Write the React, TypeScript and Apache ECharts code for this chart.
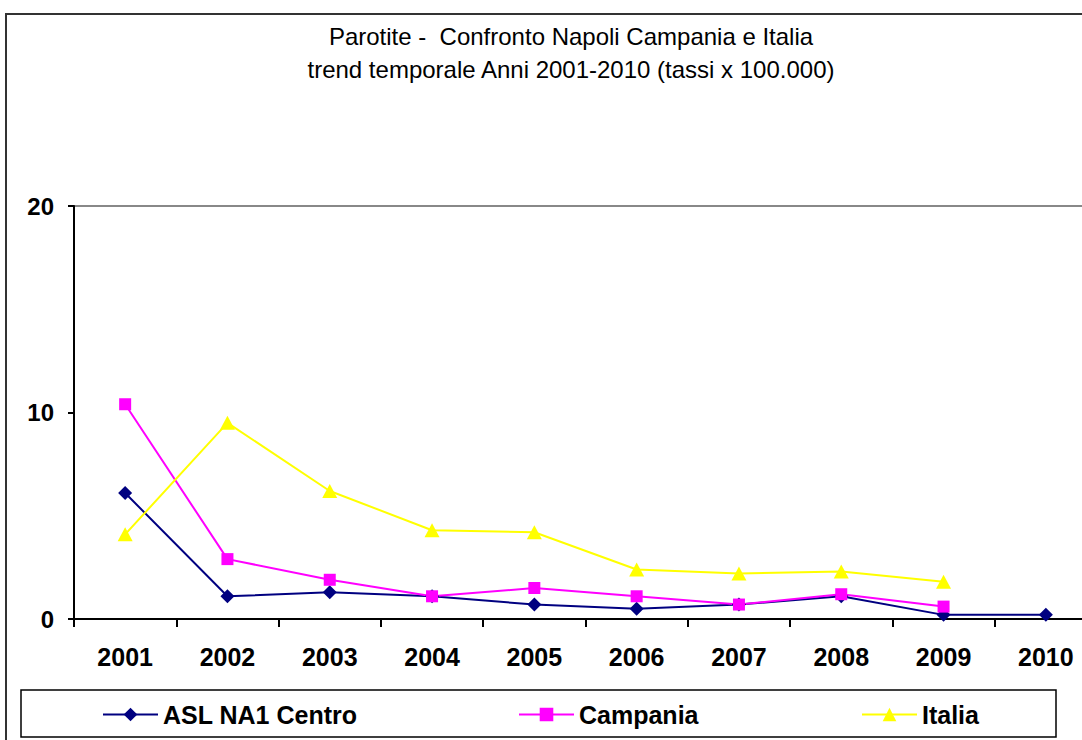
import React, { useEffect, useRef } from "react";
import * as echarts from "echarts";

const years = ["2001", "2002", "2003", "2004", "2005", "2006", "2007", "2008", "2009", "2010"];
const aslNa1 = [6.1, 1.1, 1.3, 1.1, 0.7, 0.5, 0.7, 1.1, 0.2, 0.2];
const campania = [10.4, 2.9, 1.9, 1.1, 1.5, 1.1, 0.7, 1.2, 0.6, null];
const italia = [4.1, 9.5, 6.2, 4.3, 4.2, 2.4, 2.2, 2.3, 1.8, null];
const seriesNames = ["ASL NA1 Centro", "Campania", "Italia"];
const titleText = "Parotite -  Confronto Napoli Campania e Italia\ntrend temporale Anni 2001-2010 (tassi x 100.000)";

const FONT = "'Liberation Sans', Arial, sans-serif";

export default function App() {
  const ref = useRef<HTMLDivElement>(null);
  useEffect(() => {
    if (!ref.current) return;
    const chart = echarts.init(ref.current, undefined, { renderer: "svg" });
    const legendBase = {
      top: 697,
      itemWidth: 55,
      itemHeight: 17,
      itemGap: 0,
      textStyle: { fontFamily: FONT, fontSize: 25, fontWeight: "bold", color: "#000", padding: [0, 0, 0, 0] },
    };
    chart.setOption({
      animation: false,
      title: {
        text: titleText,
        left: "center",
        top: 15,
        textStyle: { fontFamily: FONT, fontSize: 24, fontWeight: "normal", color: "#000", lineHeight: 33 },
      },
      graphic: [
        { type: "rect", shape: { x: 6, y: 14, width: 1300, height: 900 }, style: { fill: "none", stroke: "#333", lineWidth: 2 }, silent: true },
        { type: "rect", shape: { x: 21, y: 690, width: 1035, height: 47 }, style: { fill: "none", stroke: "#000", lineWidth: 1.5 }, silent: true },
      ],
      legend: [
        { ...legendBase, left: 97, data: [seriesNames[0]] },
        { ...legendBase, left: 513, data: [seriesNames[1]] },
        { ...legendBase, left: 856, data: [seriesNames[2]] },
      ],
      grid: {
        left: 74,
        top: 206,
        width: 1023,
        height: 413,
        show: true,
        borderColor: "#888",
        borderWidth: 2,
        backgroundColor: "transparent",
      },
      xAxis: {
        type: "category",
        data: years,
        boundaryGap: true,
        axisLine: { lineStyle: { color: "#000", width: 2 } },
        axisTick: { show: true, length: 8, lineStyle: { color: "#000", width: 2 } },
        axisLabel: { fontFamily: FONT, fontSize: 25, fontWeight: "bold", color: "#000", margin: 25 },
        splitLine: { show: false },
      },
      yAxis: {
        type: "value",
        min: 0,
        max: 20,
        interval: 10,
        axisLine: { show: true, lineStyle: { color: "#000", width: 2 } },
        axisTick: { show: true, length: 6, lineStyle: { color: "#000", width: 2 } },
        axisLabel: { fontFamily: FONT, fontSize: 24, fontWeight: "bold", color: "#000", margin: 20 },
        splitLine: { show: false },
      },
      series: [
        {
          name: seriesNames[0],
          type: "line",
          data: aslNa1,
          symbol: "diamond",
          symbolSize: [14, 14],
          lineStyle: { color: "#000080", width: 2 },
          itemStyle: { color: "#000080" },
        },
        {
          name: seriesNames[1],
          type: "line",
          data: campania,
          symbol: "rect",
          symbolSize: 12,
          lineStyle: { color: "#FF00FF", width: 2 },
          itemStyle: { color: "#FF00FF" },
        },
        {
          name: seriesNames[2],
          type: "line",
          data: italia,
          symbol: "triangle",
          symbolSize: [15, 14],
          lineStyle: { color: "#FFFF00", width: 2 },
          itemStyle: { color: "#FFFF00" },
        },
      ],
    });
    return () => chart.dispose();
  }, []);
  return (
    <div style={{ position: "fixed", left: 0, top: 0, width: 1082, height: 740, overflow: "hidden", background: "#fff" }}>
      <div ref={ref} style={{ width: 1142, height: 740 }} />
    </div>
  );
}
